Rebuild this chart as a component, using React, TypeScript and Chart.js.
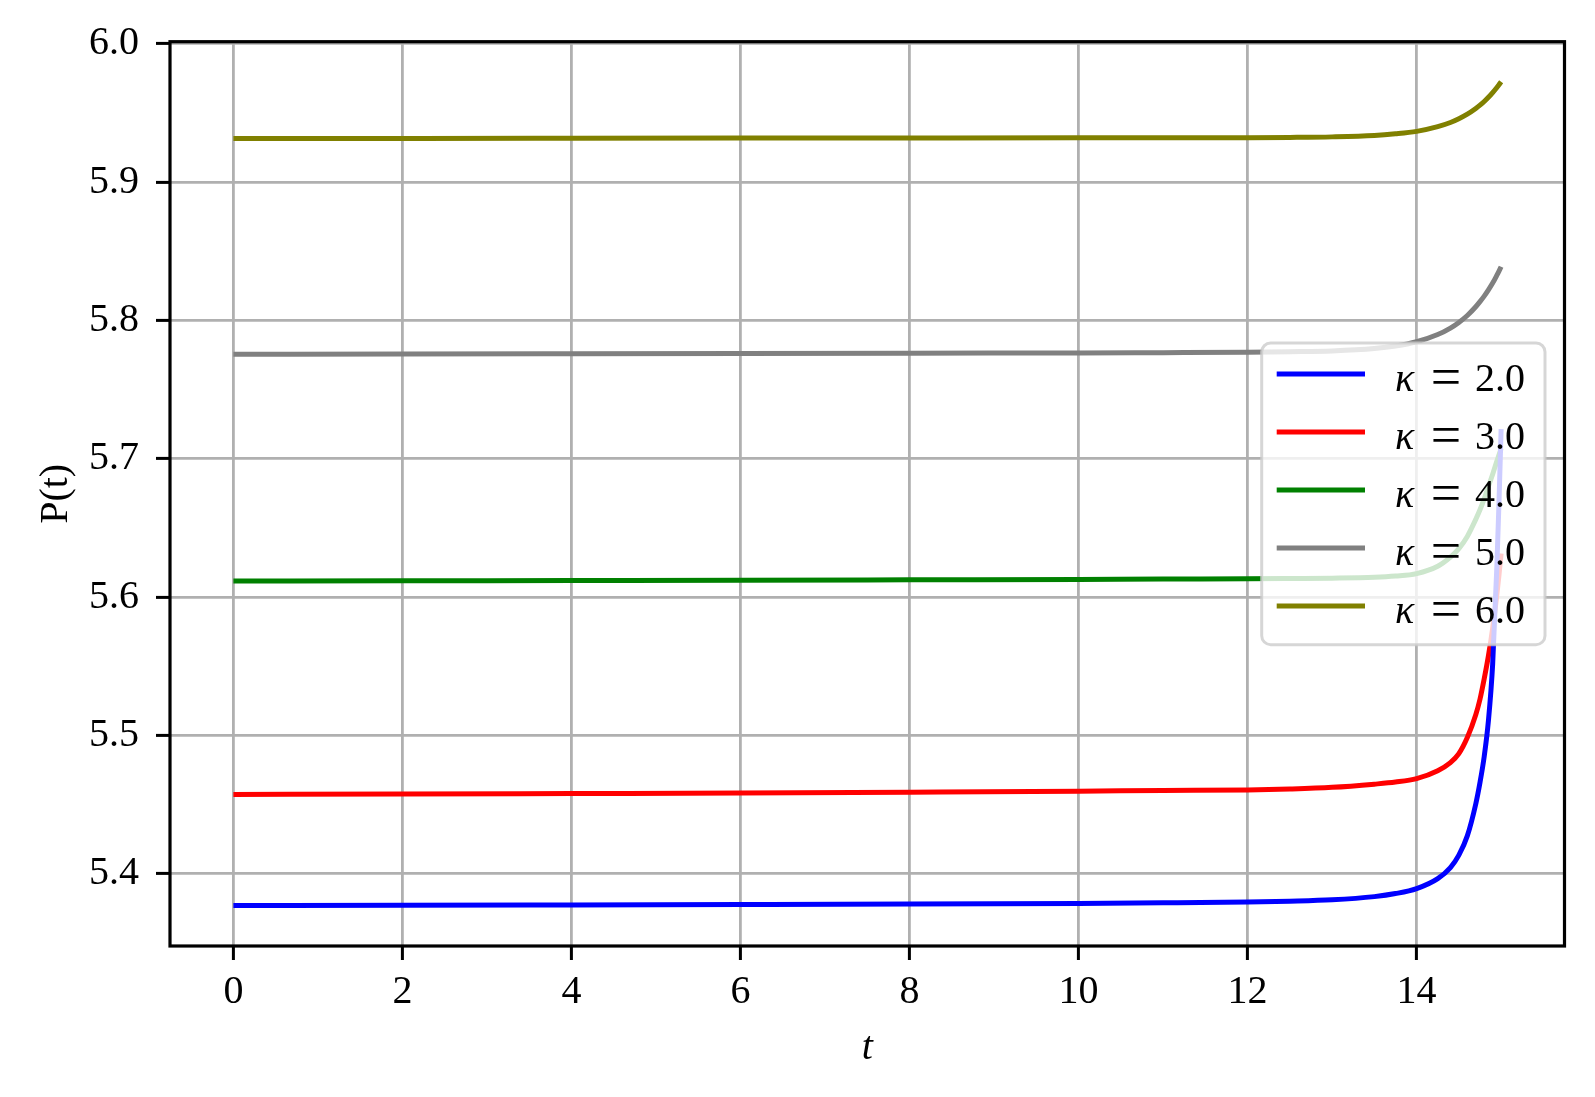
import React, { useEffect, useRef } from "react";
import { Chart, registerables } from "chart.js";

Chart.register(...registerables);

// time samples (t)
const tValues = [0, 2, 4, 6, 8, 10, 11, 12, 12.5, 13, 13.5, 13.75, 14, 14.25, 14.4, 14.5, 14.6, 14.7, 14.75, 14.8, 14.85, 14.9, 14.95, 14.975, 15];

// P(t) for each kappa
const kappa2 = [5.377, 5.3772, 5.3775, 5.3778, 5.3781, 5.3786, 5.379, 5.3796, 5.3802, 5.3812, 5.3835, 5.3857, 5.3893, 5.3965, 5.4045, 5.4135, 5.4274, 5.4505, 5.466, 5.4848, 5.5108, 5.5516, 5.6226, 5.6686, 5.7214];
const kappa3 = [5.4574, 5.4576, 5.458, 5.4584, 5.459, 5.4597, 5.4602, 5.4606, 5.4613, 5.4625, 5.4648, 5.4663, 5.4688, 5.4745, 5.4804, 5.4869, 5.4985, 5.515, 5.5262, 5.541, 5.5576, 5.5777, 5.602, 5.616, 5.6315];
const kappa4 = [5.6116, 5.6118, 5.612, 5.6122, 5.6125, 5.6128, 5.6131, 5.6133, 5.6135, 5.6137, 5.6143, 5.6152, 5.617, 5.6223, 5.6289, 5.6351, 5.6439, 5.6562, 5.6631, 5.671, 5.68, 5.6888, 5.6983, 5.7028, 5.7074];
const kappa5 = [5.7756, 5.7757, 5.7759, 5.7761, 5.7763, 5.7765, 5.7767, 5.777, 5.7774, 5.778, 5.7797, 5.7815, 5.7846, 5.7898, 5.7945, 5.7986, 5.8036, 5.8099, 5.8136, 5.8176, 5.8221, 5.827, 5.8327, 5.8357, 5.8388];
const kappa6 = [5.9316, 5.9316, 5.9317, 5.9318, 5.9319, 5.932, 5.932, 5.9321, 5.9323, 5.9327, 5.9337, 5.9349, 5.9367, 5.9401, 5.9431, 5.9458, 5.9491, 5.9532, 5.9556, 5.9583, 5.9613, 5.9647, 5.9684, 5.9704, 5.9725];

const seriesLabels = ["κ = 2.0", "κ = 3.0", "κ = 4.0", "κ = 5.0", "κ = 6.0"];
const seriesValues = [kappa2, kappa3, kappa4, kappa5, kappa6];
const seriesColors = ["#0000ff", "#ff0000", "#008000", "#808080", "#808000"];

const xTickStep = 2;
const yTickStep = 0.1;

const FONT = "'Liberation Serif', 'DejaVu Serif', serif";

const framePlugin = {
  id: "mplFrame",
  afterDatasetsDraw(chart: any) {
    const { ctx, chartArea } = chart;
    ctx.save();
    ctx.strokeStyle = "#000";
    ctx.lineWidth = 3.2;
    ctx.strokeRect(chartArea.left, chartArea.top, chartArea.right - chartArea.left, chartArea.bottom - chartArea.top);
    ctx.restore();
  },
};

const legendPlugin = {
  id: "mplLegend",
  afterDraw(chart: any) {
    const { ctx, chartArea } = chart;
    const w = 283.3;
    const h = 301.7;
    const right = chartArea.right - 19.5;
    const left = right - w;
    const top = (chartArea.top + chartArea.bottom) / 2 - h / 2;
    ctx.save();
    ctx.beginPath();
    (ctx as any).roundRect(left, top, w, h, 9);
    ctx.fillStyle = "rgba(255,255,255,0.8)";
    ctx.fill();
    ctx.strokeStyle = "rgba(204,204,204,0.8)";
    ctx.lineWidth = 3;
    ctx.stroke();
    chart.data.datasets.forEach((ds: any, i: number) => {
      const y = top + 31 + i * 58;
      ctx.strokeStyle = ds.borderColor;
      ctx.lineWidth = 5;
      ctx.beginPath();
      ctx.moveTo(left + 15, y);
      ctx.lineTo(left + 103.3, y);
      ctx.stroke();
      const parts = String(ds.label).split(" = ");
      const base = y + 17.4;
      ctx.fillStyle = "#000";
      ctx.textBaseline = "alphabetic";
      ctx.textAlign = "left";
      ctx.font = `italic 40px ${FONT}`;
      ctx.fillText(parts[0], left + 133.3, base);
      ctx.font = `54px ${FONT}`;
      ctx.fillText("=", left + 169, base + 4);
      ctx.font = `40px ${FONT}`;
      ctx.fillText(parts[1], left + 213.3, base);
    });
    ctx.restore();
  },
};

export default function App() {
  const canvasRef = useRef<HTMLCanvasElement | null>(null);

  useEffect(() => {
    if (!canvasRef.current) return;
    const datasets = seriesValues.map((vals, i) => ({
      label: seriesLabels[i],
      data: tValues.map((t, j) => ({ x: t, y: vals[j] })),
      borderColor: seriesColors[i],
      backgroundColor: seriesColors[i],
      borderWidth: 5,
      pointRadius: 0,
      fill: false,
      cubicInterpolationMode: "monotone" as const,
    }));

    const chart = new Chart(canvasRef.current, {
      type: "line",
      data: { datasets },
      plugins: [framePlugin, legendPlugin],
      options: {
        animation: false,
        responsive: false,
        devicePixelRatio: 1,
        layout: { padding: { left: 0, top: 41.7, right: 30.5, bottom: 0 } },
        plugins: {
          legend: { display: false },
          tooltip: { enabled: false },
        },
        scales: {
          x: {
            type: "linear",
            min: -0.75,
            max: 15.75,
            afterFit: (scale: any) => {
              scale.height = 151;
            },
            grid: {
              color: "#b0b0b0",
              lineWidth: 2.8,
              tickColor: "#000",
              tickWidth: 3,
              tickLength: 14,
            },
            border: { display: false },
            ticks: {
              stepSize: xTickStep,
              includeBounds: false,
              color: "#000",
              padding: 8,
              font: { family: FONT, size: 40 },
              maxRotation: 0,
              callback: (v: any) => String(v),
            },
            title: {
              display: true,
              text: "t",
              color: "#000",
              font: { family: FONT, size: 40, style: "italic" },
              padding: { top: 0, bottom: 25 },
            },
          },
          y: {
            type: "linear",
            min: 5.3478,
            max: 6.0015,
            afterFit: (scale: any) => {
              scale.width = 170;
            },
            grid: {
              color: "#b0b0b0",
              lineWidth: 2.8,
              tickColor: "#000",
              tickWidth: 3,
              tickLength: 14,
            },
            border: { display: false },
            ticks: {
              stepSize: yTickStep,
              includeBounds: false,
              color: "#000",
              padding: 17,
              font: { family: FONT, size: 40 },
              callback: (v: any) => Number(v).toFixed(1),
            },
            title: {
              display: true,
              text: "P(t)",
              color: "#000",
              font: { family: FONT, size: 40 },
              padding: { top: 32, bottom: 0 },
            },
          },
        },
      },
    });
    return () => chart.destroy();
  }, []);

  return (
    <div style={{ position: "absolute", left: 0, top: 0, width: 1595, height: 1097, background: "#fff" }}>
      <canvas ref={canvasRef} width={1595} height={1097} style={{ display: "block", width: 1595, height: 1097 }} />
    </div>
  );
}
